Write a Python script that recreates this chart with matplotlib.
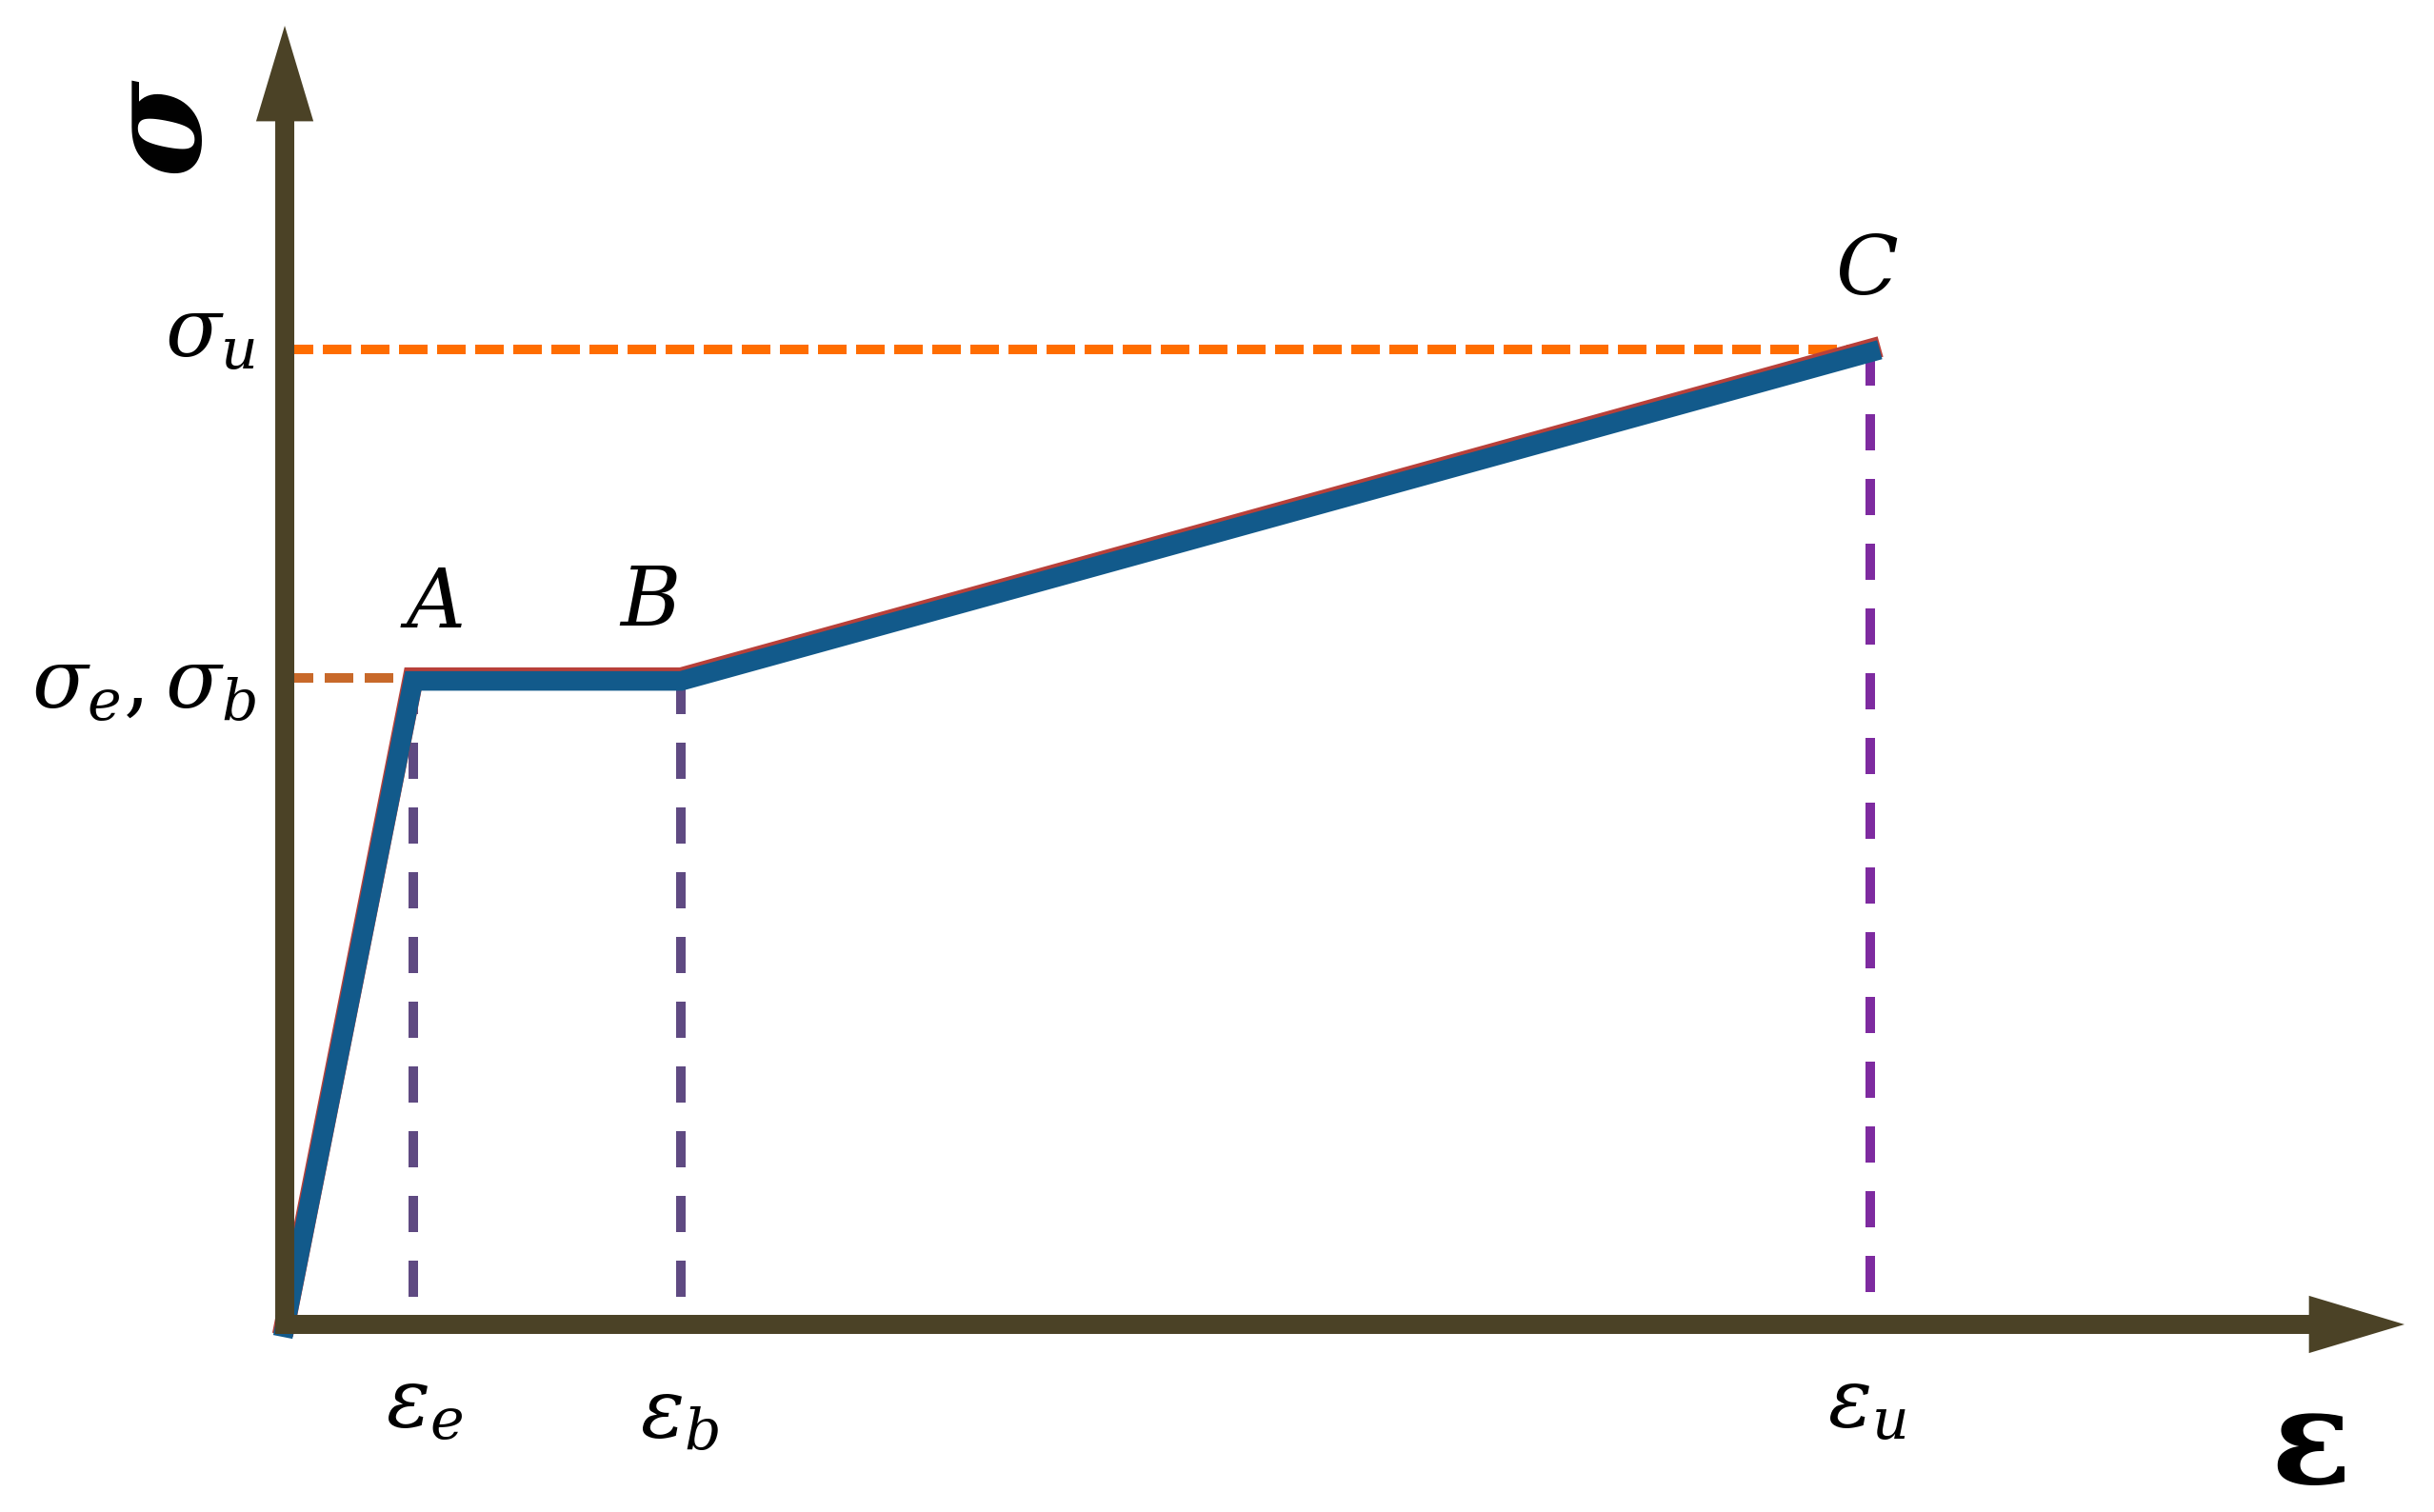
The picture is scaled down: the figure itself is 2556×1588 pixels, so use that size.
import matplotlib
matplotlib.use('Agg')
import matplotlib.pyplot as plt
from matplotlib.patches import FancyArrowPatch
from matplotlib import transforms

plt.rcParams['mathtext.fontset'] = 'dejavuserif'

# stress-strain model (normalised to the ultimate point C)
strain = [0.0, 0.081, 0.25, 1.0]
stress = [0.0, 0.663, 0.663, 1.0]
point_names = ['A', 'B', 'C']
strain_labels = [r'$\varepsilon_e$', r'$\varepsilon_b$', r'$\varepsilon_u$']
stress_labels = [r'$\sigma_e,\sigma_b$', r'$\sigma_u$']

axis_col = '#4b4226'
curve_col = '#125a8b'
edge_col = '#b8403a'
guide_cols = ['#5f4a82', '#5f4a82', '#7e2ba0']

fig = plt.figure(figsize=(12.78, 7.94), dpi=200)
ax = fig.add_axes([0, 0, 1, 1])
ax.set_xlim(-0.1796, 1.3556)
ax.set_ylim(-0.1924, 1.3584)
ax.axis('off')

# axes with arrow heads
x_end, y_end = 1.337, 1.332
for start, end in [((-0.006, 0), (x_end, 0)), ((0, -0.0098), (0, y_end))]:
    ax.add_patch(FancyArrowPatch(start, end, arrowstyle='-|>,head_length=20,head_width=6',
                                 mutation_scale=1, lw=7.2, color=axis_col,
                                 shrinkA=0, shrinkB=0, joinstyle='miter', capstyle='butt',
                                 zorder=5))

# horizontal guides
ax.plot([0, strain[1]], [stress[1], stress[1]], color='#c8692a', lw=3.6, dashes=(3, 1.2), zorder=2)
ax.plot([0, strain[3]], [stress[3], stress[3]], color='#ff6d00', lw=3.6, dashes=(3, 1), zorder=2)

# vertical guides
for i, col in zip([1, 2, 3], guide_cols):
    ax.plot([strain[i], strain[i]], [stress[i], 0], color=col, lw=3.6, dashes=(3.8, 3), zorder=2)

# curve: thin red rim under the blue line
shifted = transforms.offset_copy(ax.transData, fig=fig, x=0, y=-1.1, units='points')
ax.plot(strain, stress, color=edge_col, lw=8.0, solid_joinstyle='miter', zorder=3)
ax.plot(strain, stress, color=curve_col, lw=7.4, solid_joinstyle='miter', transform=shifted, zorder=4)

fs = 31
point_offsets = [(6.8, 27.7), (-12.2, 28.4), (-1.4, 29.5)]
for name, x, y, off in zip(point_names, strain[1:], stress[1:], point_offsets):
    ax.annotate('$' + name + '$', (x, y), xytext=off, textcoords='offset points',
                ha='center', va='center', fontsize=fs)

strain_offsets = [(4.3, -30.2), (-0.7, -34.2), (-1.4, -30.2)]
for lab, x, off in zip(strain_labels, strain[1:], strain_offsets):
    ax.annotate(lab, (x, 0), xytext=off, textcoords='offset points',
                ha='center', va='center', fontsize=fs)

stress_offsets = [(-11, -2.9), (-11, 5.8)]
for lab, y, off in zip(stress_labels, [stress[1], stress[3]], stress_offsets):
    ax.annotate(lab, (0, y), xytext=off, textcoords='offset points',
                ha='right', va='center', fontsize=fs)

# axis names
ax.annotate(r'$\boldsymbol{\sigma}$', (0, y_end), xytext=(-45.7, -38.9), textcoords='offset points',
            ha='center', va='center', fontsize=50, rotation=90)
ax.annotate(r'$\boldsymbol{\varepsilon}$', (x_end, 0), xytext=(-36.4, -46.4), textcoords='offset points',
            ha='center', va='center', fontsize=50)

fig.savefig('out.png', dpi=200)
